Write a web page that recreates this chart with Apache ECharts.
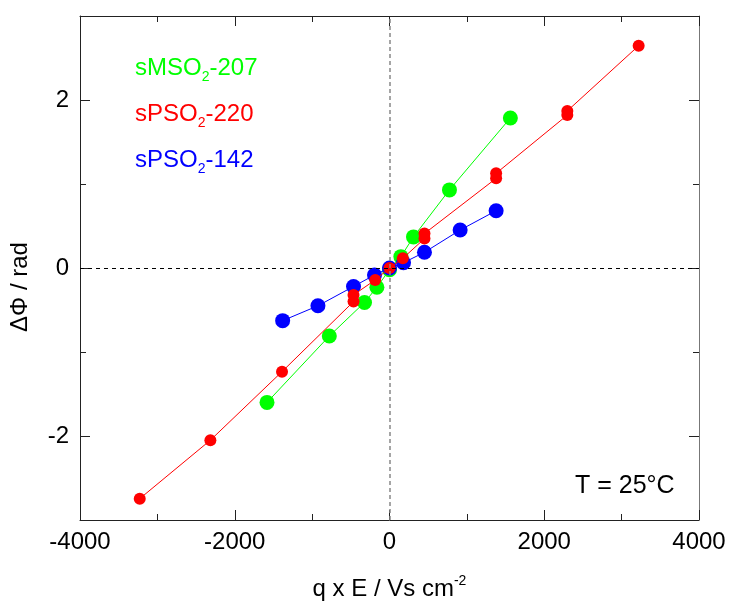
<!DOCTYPE html>
<html>
<head>
<meta charset="utf-8">
<script src="https://cdn.jsdelivr.net/npm/echarts@6/dist/echarts.min.js"></script>
<style>
  html, body { margin: 0; padding: 0; background: #fff; }
  #chart { width: 729px; height: 601px; }
</style>
</head>
<body>
<div id="chart"></div>
<script>
// Phase shift ΔΦ versus q·E for three membranes at 25 °C
const seriesNames = ['sMSO2-207', 'sPSO2-220', 'sPSO2-142'];

const msoX = [-1583, -778, -323, -163, 0, 147, 310, 775, 1562];
const msoY = [-1.60, -0.81, -0.41, -0.23, -0.02, 0.135, 0.37, 0.93, 1.786];

const pso220X = [-3228, -2315, -1389, -465, -465, -185, 0, 172, 452, 452, 1378, 1378, 2298, 2298, 3220];
const pso220Y = [-2.746, -2.05, -1.234, -0.40, -0.32, -0.143, 0, 0.115, 0.35, 0.41, 1.067, 1.127, 1.82, 1.87, 2.646];

const pso142X = [-1381, -925, -465, -194, 0, 181, 452, 913, 1378];
const pso142Y = [-0.627, -0.45, -0.22, -0.083, 0, 0.063, 0.187, 0.452, 0.682];

const xTickLabels = [-4000, -2000, 0, 2000, 4000];
const yTickLabels = [-2, 0, 2];
const yMinorTicks = [-1, 1];

const FONT = '"Liberation Sans", Arial, sans-serif';
const GREEN = '#00ff00', RED = '#ff0000', BLUE = '#0000ff';
const AXIS = '#222';

const pairs = (xs, ys) => xs.map((x, i) => [x, ys[i]]);

const sub = (color) => ({
  m: { fontSize: 24, color: color, fontFamily: FONT, lineHeight: 32 },
  s: { fontSize: 14, color: color, fontFamily: FONT, verticalAlign: 'bottom' }
});

function labelText(name) {
  // "sPSO2-220" -> sPSO + subscript 2 + -220
  const m = name.match(/^(\D+)2(-\d+)$/);
  return '{m|' + m[1] + '}{s|2}{m|' + m[2] + '}';
}

const colors = [GREEN, RED, BLUE];

const frameX = (pos) => ({
  type: 'value', position: pos, min: -4000, max: 4000, interval: 2000,
  axisLine: { show: true, onZero: false, lineStyle: { color: AXIS, width: 1 } },
  axisTick: { show: true, inside: true, length: 10, lineStyle: { color: AXIS } },
  minorTick: { show: true, splitNumber: 2, length: 6, lineStyle: { color: AXIS } },
  splitLine: { show: false },
  axisLabel: { show: pos === 'bottom', fontSize: 24, color: '#000', fontFamily: FONT, margin: 10,
               customValues: xTickLabels, formatter: (v) => String(v) }
});

const frameY = (pos, ticks, len, withLabels, lineColor) => ({
  type: 'value', position: pos, min: -3, max: 3, interval: 1,
  axisLine: { show: lineColor !== null, onZero: false, lineStyle: { color: lineColor || AXIS, width: 1 } },
  axisTick: { show: true, inside: true, length: len, customValues: ticks, lineStyle: { color: AXIS } },
  splitLine: { show: false },
  axisLabel: { show: withLabels, fontSize: 24, color: '#000', fontFamily: FONT, margin: 11,
               customValues: yTickLabels, formatter: (v) => String(v) }
});

const xBottom = frameX('bottom');
xBottom.name = '{t|q x E / Vs cm}{p|-2}';
xBottom.nameLocation = 'middle';
xBottom.nameGap = 54;
xBottom.nameTextStyle = {
  rich: {
    t: { fontSize: 24, color: '#000', fontFamily: FONT, lineHeight: 30 },
    p: { fontSize: 14, color: '#000', fontFamily: FONT, verticalAlign: 'top' }
  }
};

const yLeft = frameY('left', yTickLabels, 10, true, AXIS);
yLeft.name = 'ΔΦ / rad';
yLeft.nameLocation = 'middle';
yLeft.nameGap = 48;
yLeft.nameRotate = 90;
yLeft.nameTextStyle = { fontSize: 24, color: '#000', fontFamily: FONT, padding: [0, 38, 0, 0] };

const option = {
  animation: false,
  backgroundColor: '#fff',
  grid: { left: 80, right: 30, top: 16, bottom: 81, containLabel: false, outerBoundsMode: 'none' },
  xAxis: [xBottom, frameX('top')],
  yAxis: [
    yLeft,
    frameY('left', yMinorTicks, 6, false, null),
    frameY('right', yTickLabels, 10, false, '#777'),
    frameY('right', yMinorTicks, 6, false, null)
  ],
  legend: {
    orient: 'vertical', left: 125, top: 51, icon: 'none', itemWidth: 0, itemHeight: 0,
    itemGap: 18, selectedMode: false,
    data: seriesNames.map((n, i) => ({ name: n, textStyle: { rich: sub(colors[i]) } })),
    formatter: labelText
  },
  title: {
    text: 'T = 25°C', left: 570, top: 469,
    textStyle: { fontSize: 25, fontWeight: 'normal', color: '#000', fontFamily: FONT }
  },
  series: [
    {
      type: 'line', data: [], silent: true, z: 1,
      markLine: {
        silent: true, symbol: 'none', label: { show: false },
        data: [
          { xAxis: 0, lineStyle: { color: '#888', width: 1.5, type: [4, 3] } },
          { yAxis: 0, lineStyle: { color: '#000', width: 1, type: [4, 4] } }
        ]
      }
    },
    {
      name: seriesNames[0], type: 'line', z: 2, data: pairs(msoX, msoY),
      symbol: 'circle', symbolSize: 15, color: GREEN,
      lineStyle: { width: 1, color: GREEN }, itemStyle: { color: GREEN }
    },
    {
      name: seriesNames[2], type: 'line', z: 3, data: pairs(pso142X, pso142Y),
      symbol: 'circle', symbolSize: 15, color: BLUE,
      lineStyle: { width: 1, color: BLUE }, itemStyle: { color: BLUE }
    },
    {
      name: seriesNames[1], type: 'line', z: 4, data: pairs(pso220X, pso220Y),
      symbol: 'circle', symbolSize: 12, color: RED,
      lineStyle: { width: 1, color: RED }, itemStyle: { color: RED }
    }
  ]
};

const chart = echarts.init(document.getElementById('chart'), null, { renderer: 'canvas' });
chart.setOption(option);
</script>
</body>
</html>
